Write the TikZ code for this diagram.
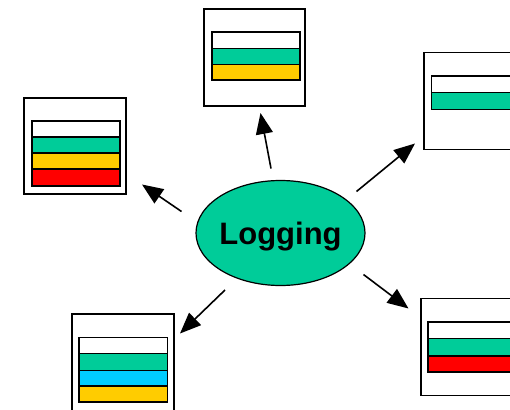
\documentclass[tikz,border=0pt]{standalone}
\usepackage{fontspec}
\setmainfont{Liberation Sans}
\usetikzlibrary{arrows.meta,shapes.geometric}
\definecolor{lgreen}{HTML}{00CC99}
\definecolor{lyellow}{HTML}{FFCC00}
\definecolor{lred}{HTML}{FF0000}
\definecolor{lcyan}{HTML}{00CCFF}
\tikzset{
  frame/.style={draw=black, line width=1.2pt, fill=white},
  bar/.style={draw=black, line width=1.5pt},
  link/.style={line width=1.6pt, -{Triangle[length=21pt,width=17pt]}},
}
\begin{document}
\begin{tikzpicture}[x=1pt,y=-1pt]
\useasboundingbox (0,0) rectangle (510,409);
\clip (0,0) rectangle (510,409);
% left box
\node[frame, minimum width=102pt, minimum height=96pt, inner sep=0pt] (bl) at (75,146) {};
\draw[bar, fill=white] (32,121) rectangle (120,137);
\draw[bar, fill=lgreen] (32,137) rectangle (120,153);
\draw[bar, fill=lyellow] (32,153) rectangle (120,169);
\draw[bar, fill=lred] (32,169) rectangle (120,186);
% top box
\node[frame, minimum width=101pt, minimum height=97pt, inner sep=0pt] (bt) at (254.5,57.5) {};
\draw[bar, fill=white] (212,32) rectangle (300,48.5);
\draw[bar, fill=lgreen] (212,48.5) rectangle (300,64.5);
\draw[bar, fill=lyellow] (212,64.5) rectangle (300,80);
% right top box
\node[frame, minimum width=100pt, minimum height=96.5pt, inner sep=0pt] (br) at (474,101) {};
\draw[bar, fill=white] (431.5,76) rectangle (530,92.5);
\draw[bar, fill=lgreen] (431.5,92.5) rectangle (530,109.5);
% bottom left box
\node[frame, minimum width=102pt, minimum height=110pt, inner sep=0pt] (bb) at (123,369) {};
\draw[bar, fill=white] (79,337.5) rectangle (167.5,353.5);
\draw[bar, fill=lgreen] (79,353.5) rectangle (167.5,370.5);
\draw[bar, fill=lcyan] (79,370.5) rectangle (167.5,386);
\draw[bar, fill=lyellow] (79,386) rectangle (167.5,402);
% bottom right box
\node[frame, minimum width=100pt, minimum height=96.5pt, inner sep=0pt] (bd) at (471,347) {};
\draw[bar, fill=white] (428,322) rectangle (530,338.5);
\draw[bar, fill=lgreen] (428,338.5) rectangle (530,356);
\draw[bar, fill=lred] (428,356) rectangle (530,372);
% center
\node[ellipse, draw=black, line width=1.2pt, fill=lgreen, minimum width=169pt, minimum height=105pt, inner sep=0pt] (log) at (280.5,233) {};
\node[font=\fontsize{31}{36}\selectfont\bfseries, inner sep=0pt] (logtext) at (280.5,237) {Logging};
% arrow coordinates
\coordinate (a1s) at (181.5,211.5); \coordinate (a1e) at (142,184.5);
\coordinate (a2s) at (271,168.5);   \coordinate (a2e) at (260.5,113);
\coordinate (a3s) at (356.5,191.5); \coordinate (a3e) at (415,143.5);
\coordinate (a4s) at (225,290);     \coordinate (a4e) at (180,333.5);
\coordinate (a5s) at (363.5,274.5); \coordinate (a5e) at (408.5,308.5);
\draw[link] (a1s) -- (a1e);
\draw[link] (a2s) -- (a2e);
\draw[link] (a3s) -- (a3e);
\draw[link] (a4s) -- (a4e);
\draw[link] (a5s) -- (a5e);
\end{tikzpicture}
\end{document}
